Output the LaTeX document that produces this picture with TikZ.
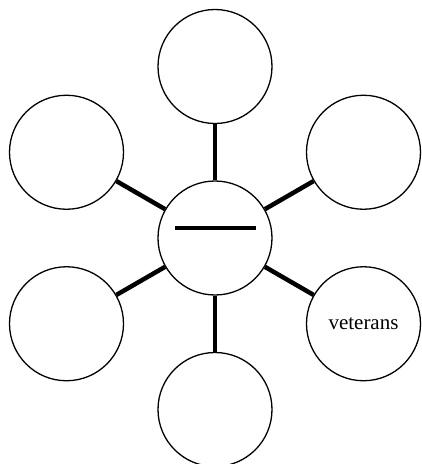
\documentclass[tikz,border=0pt]{standalone}
\usepackage{fontspec}
\setmainfont{Liberation Serif}
\usetikzlibrary{positioning}

\begin{document}
\begin{tikzpicture}[x=1pt,y=-1pt,
hub/.style={circle,draw,line width=1.3pt,minimum size=114pt,inner sep=0pt,font=\fontsize{21}{25}\selectfont},
spoke/.style={draw,line width=4.5pt}]
\useasboundingbox (0,0) rectangle (422,464);
\node[hub] (c) at (215,238) {};
\node[hub] (t) at (215,66.5) {};
\node[hub] (ur) at (363.5,152.25) {};
\node[hub] (lr) at (363.5,323.75) {veterans};
\node[hub] (b) at (215,409.5) {};
\node[hub] (ll) at (66.5,323.75) {};
\node[hub] (ul) at (66.5,152.25) {};
\foreach \x in {t,ur,lr,b,ll,ul}{\draw[spoke] (c)--(\x);}
% blank line inside the hub
\draw[line width=4pt] ([shift={(-40,-10)}]c.center) -- ([shift={(41,-10)}]c.center);
\end{tikzpicture}
\end{document}
